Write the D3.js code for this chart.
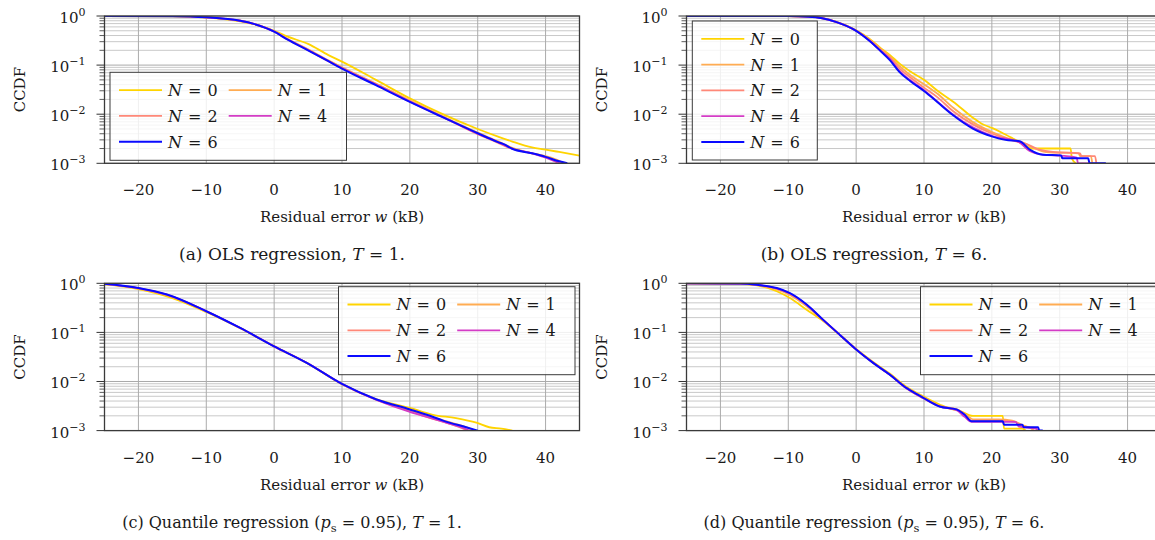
<!DOCTYPE html>
<html>
<head>
<meta charset="utf-8">
<script src="https://cdn.jsdelivr.net/npm/d3@7"></script>
<style>
body { margin: 0; background: #fff; }
text { font-family: "DejaVu Serif", "Liberation Serif", serif; fill: #1a1a1a; }
</style>
</head>
<body>
<svg id="chart" width="1155" height="540"></svg>
<script>
// legend / series info
var nValues = ["0", "1", "2", "4", "6"];
var seriesColors = ["#ffd400", "#ffac52", "#ff8878", "#d43cc6", "#0a0aff"];
var xTicks = [-20, -10, 0, 10, 20, 30, 40];
var yTicks = [1, 0.1, 0.01, 0.001];
var yExponents = ["0", "\u22121", "\u22122", "\u22123"];

// (a) OLS regression, T = 1   [w, CCDF]
var a_N0 = [[-25,1],[-15,0.985],[-10,0.93],[-5,0.78],[-3,0.68],[0,0.5],[2,0.38],[5,0.27],[8,0.16],[10,0.118],[15,0.05],[20,0.021],[25,0.0098],[30,0.005],[33,0.0035],[35,0.0028],[38,0.0021],[40,0.0019],[42,0.0017],[45,0.00143]];
var a_N1 = [[-25,1],[-15,0.99],[-10,0.94],[-5,0.8],[-3,0.69],[0,0.49],[2,0.34],[5,0.21],[8,0.125],[10,0.09],[15,0.042],[20,0.019],[25,0.0088],[30,0.0042],[33,0.0028],[35,0.0021],[38,0.0016],[40,0.0014],[42,0.00112],[42.6,0.001]];
var a_N2 = [[-25,1],[-15,0.99],[-10,0.94],[-5,0.8],[-3,0.69],[0,0.485],[2,0.335],[5,0.205],[8,0.122],[10,0.088],[15,0.041],[20,0.0185],[25,0.0086],[30,0.0039],[32,0.003],[35,0.002],[38,0.0016],[40,0.00135],[41.5,0.0011],[42.3,0.001]];
var a_N4 = [[-25,1],[-15,0.99],[-10,0.94],[-5,0.8],[-3,0.69],[0,0.482],[2,0.332],[5,0.202],[8,0.12],[10,0.086],[15,0.04],[20,0.018],[25,0.0085],[30,0.004],[33,0.0027],[35,0.002],[38,0.0016],[40,0.0013],[41.5,0.00108],[42,0.001]];
var a_N6 = [[-25,1],[-15,0.99],[-10,0.94],[-5,0.8],[-3,0.69],[0,0.48],[2,0.33],[5,0.2],[8,0.12],[10,0.085],[15,0.039],[20,0.0178],[25,0.0085],[30,0.0041],[33,0.0027],[34,0.0024],[35,0.002],[38,0.0016],[40,0.00135],[42,0.0011],[43.2,0.001]];

// (b) OLS regression, T = 6
var b_N0 = [[-25,1],[-10,0.995],[-7,0.97],[-5,0.91],[-3,0.77],[0,0.51],[2,0.34],[3.5,0.23],[5,0.16],[6.4,0.107],[8,0.074],[10.1,0.049],[12,0.03],[14.3,0.018],[17.2,0.0085],[18.5,0.0064],[20.1,0.0052],[21.5,0.0042],[23.1,0.0032],[24.5,0.0025],[26,0.002],[31.6,0.002],[31.8,0.00125],[32.4,0.001]];
var b_N1 = [[-25,1],[-10,0.995],[-7,0.97],[-5,0.905],[-3,0.765],[0,0.505],[2,0.33],[3.5,0.22],[5,0.148],[6.4,0.095],[8,0.062],[10.1,0.04],[12,0.026],[14.3,0.0135],[17.2,0.0069],[20.1,0.0043],[23.1,0.003],[25,0.0025],[26,0.0021],[28,0.0017],[32.8,0.0016],[33,0.0014],[34.6,0.0014],[34.8,0.001]];
var b_N2 = [[-25,1],[-10,0.995],[-7,0.97],[-5,0.9],[-3,0.762],[0,0.5],[2,0.32],[3.5,0.21],[5,0.14],[6.4,0.085],[8,0.056],[10.1,0.034],[12,0.022],[14.3,0.0115],[17.2,0.0062],[20.1,0.004],[23.1,0.0029],[25,0.0025],[27,0.0019],[29,0.0017],[33,0.0016],[33.2,0.0014],[35.2,0.0014],[35.4,0.001]];
var b_N4 = [[-25,1],[-10,0.995],[-7,0.97],[-5,0.9],[-3,0.76],[0,0.5],[2,0.31],[3.5,0.2],[5,0.132],[6.4,0.075],[8,0.049],[10.1,0.03],[12,0.018],[14.3,0.0098],[17.2,0.0054],[20.1,0.0036],[24,0.0027],[25.5,0.0018],[27.5,0.0015],[31,0.0014],[32.5,0.0013],[32.7,0.001],[34.4,0.001]];
var b_N6 = [[-25,1],[-10,0.995],[-7,0.97],[-5,0.9],[-3,0.76],[0,0.5],[2,0.31],[3.5,0.2],[5,0.125],[6.4,0.072],[8,0.047],[10.1,0.029],[12,0.0175],[14.3,0.0095],[17.2,0.0051],[20.1,0.0035],[22,0.003],[24.1,0.0028],[25.6,0.0019],[27.5,0.0015],[30.2,0.00145],[30.4,0.00126],[34.2,0.00126],[34.4,0.001],[36.8,0.001]];

// (c) Quantile regression, T = 1
var c_N0 = [[-25,0.96],[-20,0.76],[-15,0.5],[-10,0.26],[-5,0.122],[0,0.052],[5,0.023],[10,0.0088],[15,0.0044],[20,0.0029],[23.4,0.0021],[26.8,0.0018],[29.8,0.00145],[31.7,0.00117],[33.5,0.0011],[35.1,0.001]];
var c_N1 = [[-25,0.97],[-20,0.79],[-15.8,0.58],[-10,0.27],[-5,0.123],[0,0.052],[4.8,0.024],[10,0.0089],[15.1,0.0043],[20,0.0026],[22.5,0.002],[25,0.0016],[28.5,0.00115],[29.5,0.001]];
var c_N2 = [[-25,0.97],[-20,0.79],[-15.8,0.58],[-10,0.27],[-5,0.123],[0,0.052],[4.8,0.024],[10,0.0089],[15.1,0.0042],[20,0.0025],[22.5,0.0019],[25,0.0015],[27.5,0.00115],[28.5,0.001]];
var c_N4 = [[-25,0.97],[-20,0.795],[-15.8,0.585],[-10,0.27],[-5,0.123],[0,0.052],[4.8,0.024],[10,0.0089],[15.1,0.0042],[20,0.0024],[22.5,0.0019],[25,0.0015],[27.5,0.00118],[28.8,0.001]];
var c_N6 = [[-25,0.98],[-20,0.8],[-15.8,0.59],[-10,0.27],[-5,0.123],[0,0.052],[4.8,0.024],[10,0.0089],[15.1,0.0043],[20,0.0027],[22.5,0.0021],[24.9,0.0016],[28.3,0.00117],[30,0.001]];

// (d) Quantile regression, T = 6
var d_N0 = [[-25,1],[-17,0.98],[-14.6,0.91],[-11.7,0.69],[-9.75,0.5],[-7.3,0.29],[-4.85,0.17],[-2.4,0.089],[0,0.046],[2.5,0.025],[4.95,0.0145],[7.4,0.0078],[9.85,0.005],[12.3,0.0034],[13.8,0.0028],[15,0.0026],[17.2,0.002],[21.6,0.002],[21.8,0.0011],[24.5,0.0011],[25,0.001]];
var d_N1 = [[-25,1],[-17,0.985],[-14.6,0.92],[-11.7,0.75],[-9.75,0.58],[-7.3,0.34],[-4.85,0.175],[-2.4,0.089],[0,0.045],[2.5,0.024],[4.95,0.014],[7.4,0.0076],[9.85,0.0048],[12.3,0.0032],[14.8,0.0027],[16.2,0.0021],[17.2,0.0017],[21,0.0017],[23,0.0016],[24.5,0.0013],[25.8,0.0011],[26.2,0.001]];
var d_N2 = [[-25,1],[-17,0.99],[-14.6,0.925],[-11.7,0.78],[-9.75,0.61],[-7.3,0.36],[-4.85,0.178],[-2.4,0.089],[0,0.045],[2.5,0.024],[4.95,0.0138],[7.4,0.0073],[9.85,0.0046],[12.3,0.0031],[14.8,0.0027],[16,0.0021],[17,0.0016],[21.5,0.0016],[23.5,0.0015],[24.5,0.0012],[26.5,0.00112],[26.7,0.001]];
var d_N4 = [[-25,1],[-17,0.99],[-14.6,0.93],[-11.7,0.79],[-9.75,0.62],[-7.3,0.365],[-4.85,0.18],[-2.4,0.089],[0,0.045],[2.5,0.024],[4.95,0.0138],[7.4,0.0073],[9.85,0.0046],[12.3,0.0031],[14.8,0.0026],[16,0.0019],[17,0.0015],[21.5,0.0015],[23.5,0.0015],[24,0.0012],[26.5,0.0011],[26.7,0.001]];
var d_N6 = [[-25,1],[-17,0.99],[-14.6,0.93],[-11.7,0.8],[-9.75,0.63],[-7.3,0.37],[-4.85,0.18],[-2.4,0.089],[0,0.045],[2.5,0.024],[4.95,0.0138],[7.4,0.0074],[9.85,0.0047],[12.3,0.0031],[14.8,0.0027],[16,0.0021],[17,0.00155],[21.6,0.00155],[21.8,0.00132],[24.5,0.00132],[24.7,0.00117],[26.8,0.00117],[27,0.001],[27.5,0.001]];

var panels = [
    {id: "a", left: 104.5, top: 16, series: [a_N0, a_N1, a_N2, a_N4, a_N6],
     caption: [["(a) OLS regression, ", ""], ["T", "i"], [" = 1.", ""]], capSize: 17,
     legend: {x: 5.5, y: 56.3, cols: 2}},
    {id: "b", left: 686.5, top: 16, series: [b_N0, b_N1, b_N2, b_N4, b_N6],
     caption: [["(b) OLS regression, ", ""], ["T", "i"], [" = 6.", ""]], capSize: 17,
     legend: {x: 5.8, y: 5, cols: 1}},
    {id: "c", left: 104.5, top: 283.3, series: [c_N0, c_N1, c_N2, c_N4, c_N6],
     caption: [["(c) Quantile regression (", ""], ["p", "i"], ["s", "sub"], [" = 0.95), ", "up"], ["T", "i"], [" = 1.", ""]], capSize: 16,
     legend: {x: 234, y: 3.4, cols: 2}},
    {id: "d", left: 686.5, top: 283.3, series: [d_N0, d_N1, d_N2, d_N4, d_N6],
     caption: [["(d) Quantile regression (", ""], ["p", "i"], ["s", "sub"], [" = 0.95), ", "up"], ["T", "i"], [" = 6.", ""]], capSize: 16,
     legend: {x: 234, y: 3.4, cols: 2}}
];

var pwidth = 475;
var pheight = 147.3;

var svg = d3.select("#chart");

panels.forEach(function(p) {

    var g = svg.append("g")
        .attr("transform", `translate(${p.left},${p.top})`);

    var xScale = d3.scaleLinear()
        .domain([-25, 45])
        .range([0, pwidth]);

    var yScale = d3.scaleLog()
        .domain([0.001, 1])
        .range([pheight, 0]);

    g.append("clipPath")
        .attr("id", "clip-" + p.id)
        .append("rect")
        .attr("width", pwidth)
        .attr("height", pheight);

    // minor horizontal grid
    var minors = [];
    [0.001, 0.01, 0.1].forEach(function(dec) {
        for (var k = 2; k <= 9; k++) minors.push(k * dec);
    });

    g.append("g")
        .selectAll("line")
        .data(minors)
        .enter()
        .append("line")
        .attr("x1", 0).attr("x2", pwidth)
        .attr("y1", function(d) { return yScale(d); })
        .attr("y2", function(d) { return yScale(d); })
        .attr("stroke", "#c9c9c9")
        .attr("stroke-width", 1);

    g.append("g")
        .selectAll("line")
        .data(yTicks)
        .enter()
        .append("line")
        .attr("x1", 0).attr("x2", pwidth)
        .attr("y1", function(d) { return yScale(d); })
        .attr("y2", function(d) { return yScale(d); })
        .attr("stroke", "#a9a9a9")
        .attr("stroke-width", 1);

    g.append("g")
        .selectAll("line")
        .data(xTicks)
        .enter()
        .append("line")
        .attr("x1", function(d) { return xScale(d); })
        .attr("x2", function(d) { return xScale(d); })
        .attr("y1", 0).attr("y2", pheight)
        .attr("stroke", "#ababab")
        .attr("stroke-width", 1);

    // curves
    var line = d3.line()
        .x(function(d) { return xScale(d[0]); })
        .y(function(d) { return yScale(d[1]); })
        .curve(d3.curveMonotoneX);

    g.append("g")
        .attr("clip-path", `url(#clip-${p.id})`)
        .selectAll("path")
        .data(p.series)
        .enter()
        .append("path")
        .attr("d", line)
        .attr("fill", "none")
        .attr("stroke", function(d, i) { return seriesColors[i]; })
        .attr("stroke-width", function(d, i) { return i === 4 ? 2 : 1.8; })
        .attr("stroke-linejoin", "round");

    // box
    g.append("rect")
        .attr("width", pwidth)
        .attr("height", pheight)
        .attr("fill", "none")
        .attr("stroke", "#3a3a3a")
        .attr("stroke-width", 1.3);

    // left ticks, outside
    g.append("g")
        .selectAll("line")
        .data(minors)
        .enter()
        .append("line")
        .attr("x1", -5).attr("x2", 0)
        .attr("y1", function(d) { return yScale(d); })
        .attr("y2", function(d) { return yScale(d); })
        .attr("stroke", "#333")
        .attr("stroke-width", 0.8);

    g.append("g")
        .selectAll("line")
        .data(yTicks)
        .enter()
        .append("line")
        .attr("x1", -8).attr("x2", 0)
        .attr("y1", function(d) { return yScale(d); })
        .attr("y2", function(d) { return yScale(d); })
        .attr("stroke", "#333")
        .attr("stroke-width", 1);

    // y tick labels 10^k
    var ylab = g.append("g")
        .selectAll("text")
        .data(yTicks)
        .enter()
        .append("text")
        .attr("x", -19)
        .attr("y", function(d) { return yScale(d) + 7; })
        .attr("text-anchor", "end")
        .style("font-size", "15px");
    ylab.append("tspan").text("10");
    ylab.append("tspan")
        .attr("dy", -7)
        .style("font-size", "11px")
        .text(function(d, i) { return yExponents[i]; });

    // x tick labels
    g.append("g")
        .selectAll("text")
        .data(xTicks)
        .enter()
        .append("text")
        .attr("x", function(d) { return xScale(d); })
        .attr("y", pheight + 32)
        .attr("text-anchor", "middle")
        .style("font-size", "15px")
        .text(function(d) { return d < 0 ? "\u2212" + Math.abs(d) : d; });

    var xl = g.append("text")
        .attr("x", pwidth / 2)
        .attr("y", pheight + 59)
        .attr("text-anchor", "middle")
        .style("font-size", "15px");
    xl.append("tspan").text("Residual error ");
    xl.append("tspan").style("font-style", "italic").text("w");
    xl.append("tspan").text(" (kB)");

    g.append("text")
        .attr("transform", `translate(-80,${pheight / 2}) rotate(-90)`)
        .attr("text-anchor", "middle")
        .style("font-size", "15px")
        .text("CCDF");

    var cap = g.append("text")
        .attr("x", 187.5)
        .attr("y", pheight + 97)
        .attr("text-anchor", "middle")
        .style("font-size", p.capSize + "px");
    p.caption.forEach(function(c) {
        var t = cap.append("tspan").text(c[0]);
        if (c[1] === "i") t.style("font-style", "italic");
        if (c[1] === "sub") t.attr("dy", 4).style("font-size", "11.5px");
        if (c[1] === "up") t.attr("dy", -4);
    });

    // legend
    var lg = p.legend;
    var lw = lg.cols === 2 ? 236.5 : 125;
    var lh = lg.cols === 2 ? 88 : 139;
    var leg = g.append("g")
        .attr("transform", `translate(${lg.x},${lg.y})`);

    leg.append("rect")
        .attr("width", lw)
        .attr("height", lh)
        .attr("fill", "#fff")
        .attr("fill-opacity", 0.82)
        .attr("stroke", "#3a3a3a")
        .attr("stroke-width", 1);

    var entries = leg.selectAll(".entry")
        .data(nValues)
        .enter()
        .append("g")
        .attr("class", "entry")
        .attr("transform", function(d, i) {
            var col = lg.cols === 2 ? i % 2 : 0;
            var row = lg.cols === 2 ? Math.floor(i / 2) : i;
            return `translate(${9 + col * 109.7},${17.8 + row * 25.8})`;
        });

    entries.append("line")
        .attr("x1", 0).attr("x2", 43)
        .attr("stroke", function(d, i) { return seriesColors[i]; })
        .attr("stroke-width", function(d, i) { return i === 4 ? 2 : 1.8; });

    var et = entries.append("text")
        .attr("x", 49)
        .attr("y", 6)
        .style("font-size", "16px");
    et.append("tspan").style("font-style", "italic").text("N");
    et.append("tspan").attr("dx", 6).text("=");
    et.append("tspan").attr("dx", 6).text(function(d) { return d; });
});
</script>
</body>
</html>
